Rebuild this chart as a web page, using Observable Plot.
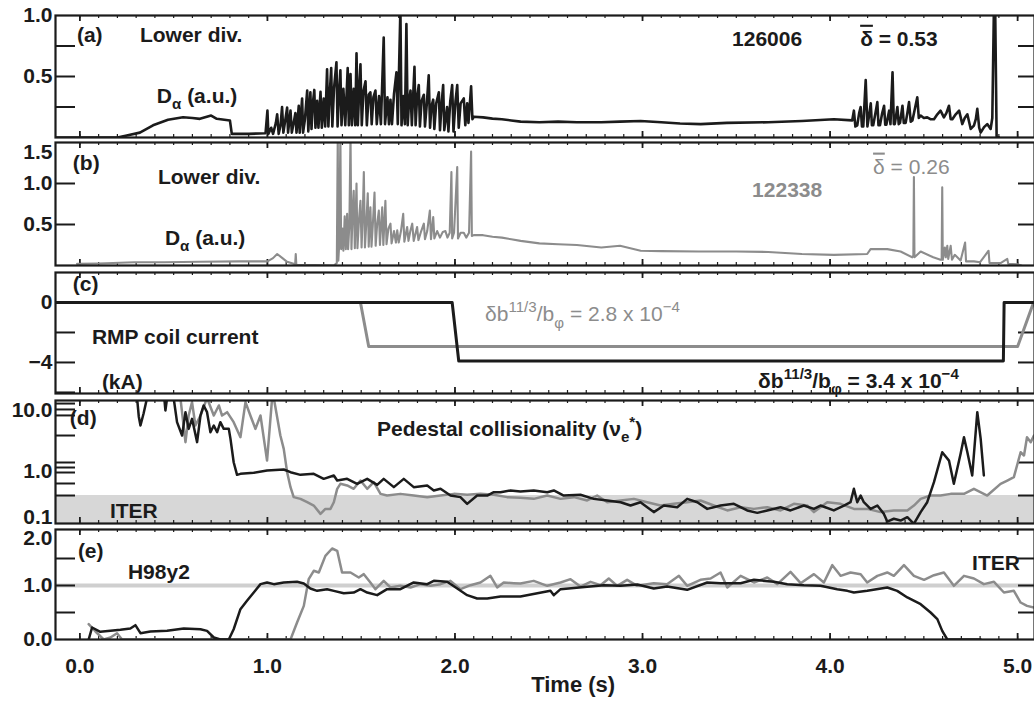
<!DOCTYPE html>
<html><head><meta charset="utf-8">
<script src="https://cdn.jsdelivr.net/npm/d3@7"></script>
<script src="https://cdn.jsdelivr.net/npm/@observablehq/plot@0.6"></script>
<style>
body{margin:0;background:#fff;}
#chart{position:relative;width:1034px;height:705px;overflow:hidden;background:#fff;}
#chart svg{position:absolute;left:0;overflow:visible;background:transparent;font:bold 21px "Liberation Sans",Arial,Helvetica,sans-serif;color:#1b1b1b;}
</style></head><body><div id="chart"></div>
<script>
// ---------------- DATA (time in s, value) ----------------
// (a) Lower divertor D-alpha, shot 126006 (a.u.)
const dAlpha126006 = [
[-0.13,0],[0.2,0],[0.25,0.016],[0.32,0.04],[0.39,0.1],[0.47,0.145],[0.55,0.166],[0.6,0.16],[0.64,0.153],[0.7,0.18],[0.73,0.153],[0.8,0.14],[0.81,0.03],[0.9,0.03],[0.99,0.035],
[1.0,0.22],[1.005,0.03],[1.02,0.08],[1.03,0.03],[1.045,0.12],[1.052,0.19],[1.06,0.03],[1.07,0.1],[1.078,0.25],[1.085,0.04],[1.095,0.14],[1.105,0.245],[1.11,0.04],[1.123,0.22],[1.13,0.04],[1.14,0.12],[1.149,0.2],[1.155,0.04],[1.167,0.26],[1.172,0.04],[1.185,0.32],[1.19,0.04],[1.2,0.15],[1.212,0.385],[1.218,0.05],[1.229,0.37],[1.235,0.07],[1.242,0.28],[1.25,0.39],[1.256,0.08],[1.265,0.3],[1.272,0.08],[1.283,0.375],[1.29,0.08],[1.3,0.32],[1.308,0.09],[1.318,0.56],[1.325,0.09],[1.332,0.35],[1.34,0.57],[1.346,0.09],[1.355,0.4],[1.368,0.617],[1.374,0.09],[1.382,0.38],[1.389,0.55],[1.395,0.1],[1.405,0.4],[1.415,0.1],[1.428,0.57],[1.434,0.1],[1.443,0.52],[1.45,0.1],[1.46,0.4],[1.468,0.1],[1.475,0.69],[1.482,0.1],[1.49,0.42],[1.496,0.6],[1.503,0.1],[1.512,0.38],[1.523,0.46],[1.53,0.1],[1.54,0.35],[1.549,0.37],[1.556,0.11],[1.565,0.33],[1.576,0.385],[1.583,0.11],[1.595,0.34],[1.605,0.11],[1.62,0.82],[1.627,0.11],[1.64,0.33],[1.648,0.11],[1.656,0.31],[1.664,0.11],[1.675,0.36],[1.688,0.535],[1.695,0.11],[1.709,1.05],[1.715,0.1],[1.725,0.34],[1.733,0.11],[1.741,0.93],[1.748,0.1],[1.755,0.3],[1.763,0.385],[1.77,0.1],[1.784,0.58],[1.79,0.1],[1.798,0.33],[1.807,0.43],[1.813,0.09],[1.822,0.3],[1.834,0.35],[1.84,0.09],[1.85,0.28],[1.86,0.51],[1.867,0.08],[1.875,0.26],[1.884,0.31],[1.89,0.07],[1.9,0.28],[1.914,0.37],[1.92,0.06],[1.93,0.3],[1.937,0.43],[1.943,0.06],[1.958,0.25],[1.965,0.05],[1.975,0.3],[1.985,0.43],[1.992,0.05],[2.003,0.3],[2.012,0.43],[2.02,0.08],[2.03,0.28],[2.047,0.32],[2.055,0.1],[2.065,0.28],[2.072,0.12],[2.086,0.42],[2.093,0.15],[2.1,0.17],
[2.15,0.165],[2.2,0.155],[2.25,0.15],[2.3,0.14],[2.35,0.13],[2.45,0.125],[2.55,0.13],[2.65,0.125],[2.78,0.125],[2.88,0.13],[2.99,0.135],[3.1,0.125],[3.2,0.115],[3.31,0.11],[3.45,0.12],[3.67,0.125],[3.85,0.135],[4.02,0.15],[4.118,0.14],
[4.127,0.22],[4.135,0.09],[4.145,0.1],[4.155,0.2],[4.163,0.25],[4.17,0.09],[4.177,0.09],[4.19,0.47],[4.199,0.09],[4.208,0.18],[4.217,0.28],[4.223,0.1],[4.23,0.1],[4.242,0.2],[4.252,0.29],[4.258,0.1],[4.266,0.1],[4.278,0.2],[4.288,0.26],[4.294,0.105],[4.3,0.105],[4.315,0.22],[4.322,0.11],[4.333,0.535],[4.34,0.11],[4.345,0.11],[4.359,0.25],[4.366,0.11],[4.373,0.12],[4.386,0.26],[4.393,0.12],[4.403,0.12],[4.412,0.2],[4.421,0.29],[4.43,0.13],[4.439,0.14],[4.45,0.22],[4.465,0.33],[4.473,0.16],[4.483,0.18],[4.5,0.16],[4.518,0.165],[4.535,0.15],[4.554,0.15],[4.572,0.19],[4.589,0.22],[4.607,0.165],[4.62,0.2],[4.634,0.26],[4.643,0.15],[4.652,0.15],[4.67,0.19],[4.688,0.22],[4.705,0.11],[4.718,0.16],[4.732,0.19],[4.75,0.07],[4.767,0.098],[4.777,0.15],[4.785,0.235],[4.795,0.08],[4.803,0.04],[4.821,0.085],[4.838,0.11],[4.856,0.07],[4.865,0.16],[4.874,1.1],[4.88,1.1],[4.888,0.01],[4.9,0]
];
// (b) Lower divertor D-alpha, shot 122338 (a.u.)
const dAlpha122338 = [
[-0.015,0.02],[0.1,0.025],[0.29,0.04],[0.45,0.04],[0.64,0.045],[0.85,0.05],[1.0,0.05],[1.03,0.09],[1.052,0.14],[1.08,0.09],[1.105,0.045],[1.14,0.02],[1.148,0.02],[1.151,0.14],[1.154,0.01],[1.25,0.005],[1.354,0],[1.37,0.03],
[1.375,1.6],[1.378,0.06],[1.383,0.27],[1.389,1.6],[1.393,0.2],[1.4,0.45],[1.405,0.18],[1.412,0.6],[1.418,0.2],[1.425,0.63],[1.43,0.2],[1.437,0.5],[1.443,1.6],[1.448,0.2],[1.455,0.7],[1.46,0.91],[1.466,0.21],[1.475,1.0],[1.48,0.21],[1.488,0.55],[1.496,0.79],[1.502,0.22],[1.508,0.6],[1.514,1.14],[1.52,0.22],[1.528,0.55],[1.535,0.88],[1.54,0.23],[1.549,0.71],[1.555,0.23],[1.562,0.5],[1.571,0.89],[1.577,0.24],[1.585,0.5],[1.594,0.67],[1.6,0.25],[1.612,0.71],[1.618,0.25],[1.629,0.79],[1.635,0.26],[1.645,0.45],[1.656,0.51],[1.662,0.27],[1.675,0.42],[1.685,0.28],[1.692,0.43],[1.7,0.28],[1.712,0.42],[1.724,0.63],[1.73,0.29],[1.745,0.47],[1.752,0.3],[1.762,0.42],[1.772,0.51],[1.78,0.3],[1.798,0.47],[1.805,0.31],[1.82,0.42],[1.834,0.51],[1.84,0.32],[1.852,0.42],[1.866,0.67],[1.872,0.32],[1.884,0.59],[1.89,0.33],[1.905,0.42],[1.92,0.34],[1.935,0.41],[1.949,0.42],[1.96,0.34],[1.972,0.4],[1.981,1.14],[1.985,0.33],[1.995,0.4],[2.012,1.2],[2.016,0.33],[2.03,0.4],[2.047,0.4],[2.06,0.34],[2.075,0.4],[2.086,1.39],[2.09,0.36],[2.1,0.37],
[2.15,0.37],[2.2,0.35],[2.25,0.34],[2.3,0.32],[2.35,0.3],[2.45,0.27],[2.55,0.26],[2.65,0.25],[2.78,0.22],[2.88,0.24],[2.99,0.18],[3.1,0.175],[3.3,0.17],[3.5,0.17],[3.67,0.165],[3.85,0.14],[4.02,0.13],[4.198,0.14],[4.216,0.2],[4.305,0.2],[4.376,0.17],[4.438,0.1],[4.444,0.12],[4.447,1.08],[4.45,0.1],[4.483,0.17],[4.55,0.1],[4.589,0.07],[4.595,0.07],[4.598,0.955],[4.601,0.07],[4.612,0.22],[4.617,0.1],[4.625,0.24],[4.63,0.08],[4.643,0.24],[4.65,0.07],[4.665,0.13],[4.696,0.06],[4.72,0.28],[4.725,0.05],[4.767,0.05],[4.8,0.04],[4.845,0.18],[4.85,0.03],[4.909,0.03],[4.945,0.08],[4.95,0.02],[4.998,0.015],[5.02,0]
];
// (c) RMP coil current (kA)
const rmp126006 = [[-0.13,0],[1.985,0],[2.02,-3.9],[4.924,-3.9],[4.928,0],[5.09,0]];
const rmp122338 = [[-0.13,0],[1.496,0],[1.54,-2.93],[5.0,-2.93],[5.085,0]];
// (d) Pedestal collisionality nu_e*
const nuStar126006 = [
[0.305,16],[0.314,8],[0.323,5.68],[0.34,9],[0.358,16],[0.45,16],[0.456,10],[0.465,16],[0.5,16],[0.518,6.44],[0.545,3.89],[0.563,9.39],[0.58,5.0],[0.598,7.3],[0.625,3.03],[0.643,8.28],[0.66,12.1],[0.678,9.39],[0.696,4.41],[0.714,5.68],[0.732,4.41],[0.749,6.44],[0.767,5.0],[0.794,5.0],[0.803,3.43],[0.82,1.42],[0.838,0.882],[0.856,0.916],[0.927,0.951],[0.998,1.04],[1.087,1.08],[1.123,0.975],[1.176,0.882],[1.247,0.916],[1.3,0.758],[1.354,0.86],[1.372,0.712],[1.425,0.758],[1.478,0.628],[1.532,0.758],[1.585,0.605],[1.62,0.758],[1.674,0.554],[1.727,0.758],[1.78,0.554],[1.852,0.59],[1.887,0.489],[1.923,0.52],[1.976,0.404],[2.029,0.38],[2.065,0.295],[2.118,0.404],[2.172,0.404],[2.207,0.458],[2.243,0.458],[2.296,0.489],[2.349,0.47],[2.42,0.489],[2.492,0.458],[2.527,0.489],[2.58,0.404],[2.669,0.415],[2.74,0.356],[2.812,0.335],[2.883,0.314],[2.936,0.277],[2.989,0.314],[3.06,0.216],[3.114,0.277],[3.185,0.26],[3.238,0.356],[3.292,0.314],[3.345,0.244],[3.416,0.277],[3.487,0.295],[3.558,0.23],[3.612,0.21],[3.665,0.23],[3.736,0.26],[3.789,0.23],[3.86,0.277],[3.914,0.244],[3.949,0.277],[4.02,0.23],[4.074,0.277],[4.109,0.314],[4.127,0.52],[4.145,0.314],[4.163,0.404],[4.18,0.314],[4.216,0.244],[4.252,0.277],[4.287,0.202],[4.305,0.151],[4.34,0.168],[4.376,0.157],[4.412,0.178],[4.447,0.139],[4.483,0.216],[4.518,0.314],[4.554,0.669],[4.598,2.07],[4.634,1.51],[4.66,0.628],[4.696,1.95],[4.714,3.65],[4.732,2.07],[4.758,0.86],[4.785,9.4],[4.803,3.43],[4.82,0.86]
];
const nuStar122338 = [
[0.536,16],[0.563,3.03],[0.58,8.28],[0.598,13.7],[0.616,5.68],[0.643,8.28],[0.678,16],[0.714,8.28],[0.741,12.1],[0.758,8.28],[0.785,9.39],[0.82,6.44],[0.856,3.65],[0.883,13.7],[0.909,8.28],[0.936,5.0],[0.963,8.28],[0.998,1.51],[1.025,16],[1.034,16],[1.069,3.89],[1.087,2.35],[1.105,0.975],[1.123,0.554],[1.14,0.38],[1.176,0.356],[1.212,0.314],[1.247,0.277],[1.283,0.202],[1.309,0.244],[1.336,0.244],[1.354,0.314],[1.372,0.52],[1.389,0.628],[1.425,0.59],[1.46,0.52],[1.496,0.712],[1.532,0.52],[1.567,0.669],[1.603,0.43],[1.638,0.404],[1.709,0.43],[1.78,0.404],[1.852,0.38],[1.923,0.404],[1.994,0.43],[2.065,0.415],[2.136,0.43],[2.207,0.415],[2.278,0.38],[2.349,0.37],[2.42,0.356],[2.492,0.404],[2.563,0.356],[2.634,0.38],[2.705,0.335],[2.758,0.404],[2.812,0.314],[2.883,0.335],[2.954,0.356],[3.025,0.314],[3.096,0.277],[3.167,0.295],[3.238,0.314],[3.309,0.335],[3.38,0.277],[3.452,0.23],[3.523,0.26],[3.594,0.244],[3.665,0.26],[3.736,0.23],[3.807,0.295],[3.878,0.277],[3.914,0.216],[3.985,0.314],[4.056,0.295],[4.127,0.244],[4.198,0.244],[4.269,0.216],[4.34,0.23],[4.412,0.23],[4.447,0.277],[4.483,0.356],[4.536,0.404],[4.589,0.404],[4.643,0.43],[4.714,0.43],[4.767,0.52],[4.838,0.404],[4.909,0.628],[4.945,0.712],[4.98,0.807],[5.016,2.07],[5.034,1.83],[5.05,3.65],[5.07,3.03],[5.087,3.89]
];
// (e) H98y2 confinement factor
const h98_126006 = [
[0.047,0],[0.065,0.222],[0.109,0.142],[0.163,0.16],[0.216,0.179],[0.269,0.204],[0.296,0.265],[0.323,0.117],[0.376,0.148],[0.465,0.16],[0.554,0.204],[0.643,0.19],[0.678,0.16],[0.714,0.037],[0.749,0],[0.794,0],[0.82,0.19],[0.856,0.562],[0.891,0.716],[0.927,0.87],[0.963,1.025],[0.998,1.056],[1.034,1.025],[1.087,1.056],[1.158,1.068],[1.194,1.037],[1.229,0.944],[1.265,0.901],[1.318,0.932],[1.354,0.901],[1.407,0.858],[1.46,0.87],[1.496,0.932],[1.532,0.87],[1.585,0.821],[1.638,0.932],[1.709,0.932],[1.78,1.056],[1.852,1.025],[1.887,1.086],[1.958,1.068],[2.012,0.944],[2.065,0.821],[2.118,0.759],[2.172,0.759],[2.243,0.796],[2.314,0.796],[2.349,0.796],[2.509,0.901],[2.527,0.821],[2.563,0.932],[2.705,0.975],[2.794,1.006],[2.883,0.994],[2.972,1.019],[3.06,0.944],[3.131,0.981],[3.238,0.92],[3.345,1.056],[3.416,1.043],[3.523,1.043],[3.594,1.105],[3.701,1.068],[3.772,1.025],[3.86,1.006],[3.949,0.994],[4.038,0.932],[4.092,0.901],[4.127,0.87],[4.198,0.901],[4.305,0.963],[4.358,0.901],[4.412,0.778],[4.483,0.654],[4.536,0.5],[4.572,0.377],[4.598,0.16],[4.625,0],[4.803,0]
];
const h98_122338 = [
[0.047,0.284],[0.083,0.148],[0.127,0],[0.163,0.037],[0.198,0.117],[0.225,0],[1.123,0],[1.158,0.315],[1.194,0.623],[1.22,1.117],[1.247,1.272],[1.274,1.241],[1.309,1.549],[1.345,1.685],[1.372,1.642],[1.398,1.241],[1.443,1.241],[1.487,1.148],[1.514,1.21],[1.549,1.056],[1.576,0.932],[1.62,1.086],[1.656,0.963],[1.709,0.994],[1.763,0.963],[1.816,1.025],[1.869,0.994],[1.923,1.025],[1.976,1.086],[2.029,0.932],[2.083,1.006],[2.136,1.056],[2.189,1.179],[2.225,0.963],[2.26,1.056],[2.314,1.043],[2.349,1.037],[2.42,1.086],[2.492,0.994],[2.563,1.056],[2.616,1.117],[2.669,0.981],[2.723,1.068],[2.776,1.006],[2.82,1.129],[2.865,0.994],[2.918,1.105],[2.972,0.994],[3.06,1.043],[3.131,1.025],[3.194,1.179],[3.238,0.994],[3.309,1.105],[3.363,1.129],[3.416,1.241],[3.452,0.963],[3.523,1.179],[3.594,1.056],[3.665,1.148],[3.719,1.025],[3.789,1.253],[3.843,1.043],[3.914,1.21],[3.967,1.056],[4.012,1.377],[4.056,1.179],[4.109,1.241],[4.163,1.21],[4.198,1.056],[4.252,1.179],[4.305,1.241],[4.34,1.179],[4.394,1.377],[4.447,1.179],[4.501,1.105],[4.554,1.191],[4.607,1.241],[4.66,0.994],[4.714,1.179],[4.767,1.129],[4.82,1.025],[4.874,1.068],[4.927,0.87],[4.98,0.901],[5.016,0.685],[5.05,0.623],[5.087,0.593]
];
// ITER reference levels
const iterNuBand = [0.1, 0.404];
const iterH98 = [1.0];
// tick values
const timeTicks = [0, 1, 2, 3, 4, 5];
const minorTimeTicks = d3.range(0, 51).map(i => i / 10);
const ticksA = [0.25, 0.5, 0.75], labelsA = [1.0, 0.5];
const ticksB = [0.5, 1.0], labelsB = [1.0, 0.5], topLabelB = [1.5];
const ticksC = [0, -2, -4, -6], rightTicksC = [-2, -4], labelsC = [0, -4];
const ticksD = [13.0, 10.4, 8.3, 3.89, 1.405, 1.163, 0.963, 0.636, 0.404], rightTicksD = [1.405, 0.404], labelsD = [10, 1], bottomLabelD = [0.1];
const ticksE = [0.5, 1.0, 1.5], labelsE = [1.0, 0.0], topLabelE = [2.0];

// ---------------- LAYOUT ----------------
const INK = "#1b1b1b", GREY = "#8c8c8c";
const W = 1034, ML = 55, MR = 0, IW = W - ML - MR;
const xDomain = [-0.13, 5.09];
const FONT = '"Liberation Sans", Arial, Helvetica, sans-serif';
const chart = document.getElementById("chart");
const f1 = d3.format(".1f");
const fInt = d => d < 0 ? "\u2212" + Math.abs(d) : String(d);

function annotate(svg, notes) {
  const sx = svg.scale("x"), sy = svg.scale("y");
  const g = d3.select(svg).append("g").attr("text-anchor", "start");
  for (const n of notes) {
    const fs = n.size || 21;
    const t = g.append("text")
      .attr("text-anchor", "start")
      .attr("x", sx.apply(n.x)).attr("y", sy.apply(n.y) + 0.36 * fs)
      .attr("fill", n.color || INK).attr("font-size", fs)
      .attr("font-weight", n.weight || "bold").attr("font-family", FONT);
    let shift = 0;
    for (const p of n.parts) {
      const [str, kind] = typeof p === "string" ? [p, null] : p;
      const target = kind === "sub" ? 0.3 * fs : kind === "sup" ? -0.42 * fs : 0;
      const small = kind === "sub" || kind === "sup";
      const ts = t.append("tspan").attr("font-size", small ? 0.72 * fs : fs).text(str);
      if (kind === "over") ts.style("text-decoration", "overline");
      if (target - shift !== 0) ts.attr("dy", target - shift);
      shift = target;
    }
  }
}

function panel(cfg) {
  const innerH = cfg.bottom - cfg.top;
  const mb = cfg.marginBottom || 0;
  const marks = [
    ...(cfg.under || []),
    Plot.ruleX(minorTimeTicks, {insetBottom: innerH - 3, stroke: INK, strokeWidth: 1.2}),
    Plot.ruleX(minorTimeTicks, {insetTop: innerH - 3, stroke: INK, strokeWidth: 1.2}),
    Plot.ruleX(timeTicks, {insetBottom: innerH - 6, stroke: INK, strokeWidth: 1.8}),
    Plot.ruleX(timeTicks, {insetTop: innerH - 6, stroke: INK, strokeWidth: 1.8}),
    Plot.ruleY(cfg.leftTicks, {insetRight: IW - 20, stroke: INK, strokeWidth: 2}),
    Plot.ruleY(cfg.rightTicks, {insetLeft: IW - 16, stroke: INK, strokeWidth: 2}),
    ...cfg.lines,
    Plot.frame({stroke: INK, strokeWidth: 2.2}),
    ...cfg.axes
  ];
  const svg = Plot.plot({
    width: W, height: innerH + mb,
    marginTop: 0, marginBottom: mb, marginLeft: ML, marginRight: MR,
    x: cfg.xAxis ? {domain: xDomain, label: null} : {domain: xDomain, axis: null, label: null},
    y: {...cfg.y, label: null},
    style: {overflow: "visible", background: "transparent"},
    marks
  });
  svg.style.top = cfg.top + "px";
  chart.appendChild(svg);
  annotate(svg, cfg.notes);
}

const axisOpts = {anchor: "left", tickSize: 0, tickPadding: 3, label: null};
const line = (data, color, w) => Plot.line(data, {x: d => d[0], y: d => d[1], stroke: color, strokeWidth: w, clip: true, strokeLinejoin: "round"});

// (a)
panel({
  top: 15, bottom: 137, y: {domain: [0, 1]},
  leftTicks: ticksA, rightTicks: ticksA,
  lines: [line(dAlpha126006, INK, 2.6)],
  axes: [Plot.axisY(labelsA, {...axisOpts, tickFormat: f1})],
  notes: [
    {x: -0.013, y: 0.844, parts: ["(a)"]},
    {x: 0.323, y: 0.844, parts: ["Lower div."]},
    {x: 0.413, y: 0.344, parts: ["D", ["\u03b1", "sub"], " (a.u.)"]},
    {x: 3.48, y: 0.81, parts: ["126006"]},
    {x: 4.163, y: 0.81, parts: [["\u03b4", "over"], " = 0.53"]}
  ]
});
// (b)
panel({
  top: 142, bottom: 265, y: {domain: [0, 1.5]},
  leftTicks: ticksB, rightTicks: ticksB,
  lines: [line(dAlpha122338, GREY, 2.1)],
  axes: [Plot.axisY(labelsB, {...axisOpts, tickFormat: f1}), Plot.axisY(topLabelB, {...axisOpts, tickFormat: f1, dy: 10})],
  notes: [
    {x: -0.035, y: 1.256, parts: ["(b)"]},
    {x: 0.419, y: 1.085, parts: ["Lower div."]},
    {x: 0.456, y: 0.335, parts: ["D", ["\u03b1", "sub"], " (a.u.)"]},
    {x: 3.587, y: 0.927, parts: ["122338"], color: GREY},
    {x: 4.232, y: 1.207, parts: [["\u03b4", "over"], " = 0.26"], color: GREY, weight: "normal"}
  ]
});
// (c)
panel({
  top: 272, bottom: 393, y: {domain: [-6.07, 2]},
  leftTicks: ticksC, rightTicks: rightTicksC,
  lines: [line(rmp122338, GREY, 3), line(rmp126006, INK, 3)],
  axes: [Plot.axisY(labelsC, {...axisOpts, tickFormat: fInt})],
  notes: [
    {x: -0.035, y: 1.27, parts: ["(c)"]},
    {x: 0.067, y: -2.27, parts: ["RMP coil current"]},
    {x: 0.12, y: -5.27, parts: ["(kA)"]},
    {x: 2.163, y: -0.78, parts: ["\u03b4b", ["11/3", "sup"], "/b", ["\u03c6", "sub"], " = 2.8 x 10", ["\u22124", "sup"]], color: GREY, weight: "normal"},
    {x: 3.619, y: -5.2, parts: ["\u03b4b", ["11/3", "sup"], "/b", ["\u03c6", "sub"], " = 3.4 x 10", ["\u22124", "sup"]]}
  ]
});
// (d)
panel({
  top: 400, bottom: 523, y: {type: "log", domain: [0.1405, 14.59]},
  leftTicks: ticksD, rightTicks: rightTicksD,
  under: [Plot.rect([iterNuBand], {x1: xDomain[0], x2: xDomain[1], y1: d => d[0], y2: d => d[1], fill: "#d7d7d7", clip: true})],
  lines: [line(nuStar122338, GREY, 2.5), line(nuStar126006, INK, 2.5)],
  axes: [Plot.axisY(labelsD, {...axisOpts, tickFormat: f1}), Plot.axisY(bottomLabelD, {...axisOpts, tickFormat: f1, dy: -15})],
  notes: [
    {x: -0.051, y: 7.68, parts: ["(d)"]},
    {x: 1.587, y: 5.07, parts: ["Pedestal collisionality (\u03bd", ["e", "sub"], ["*", "sup"], ")"]},
    {x: 0.163, y: 0.23, parts: ["ITER"]}
  ]
});
// (e)
panel({
  top: 529, bottom: 639, marginBottom: 66, xAxis: true, y: {domain: [0, 2.037]},
  leftTicks: ticksE, rightTicks: ticksE,
  under: [Plot.ruleY(iterH98, {stroke: "#cfcfcf", strokeWidth: 4})],
  lines: [line(h98_122338, GREY, 2.5), line(h98_126006, INK, 2.5)],
  axes: [
    Plot.axisY(labelsE, {...axisOpts, tickFormat: f1}),
    Plot.axisY(topLabelE, {...axisOpts, tickFormat: f1, dy: 7}),
    Plot.axisX(timeTicks, {anchor: "bottom", tickSize: 0, tickPadding: 19, tickFormat: f1, label: null}),
    Plot.text([{x: 2.63, text: "Time (s)"}], {x: "x", text: "text", frameAnchor: "bottom", dy: 52, fontSize: 22, fontWeight: "bold"})
  ],
  notes: [
    {x: -0.008, y: 1.648, parts: ["(e)"]},
    {x: 0.259, y: 1.259, parts: ["H98y2"]},
    {x: 4.76, y: 1.426, parts: ["ITER"]}
  ]
});
</script></body></html>
